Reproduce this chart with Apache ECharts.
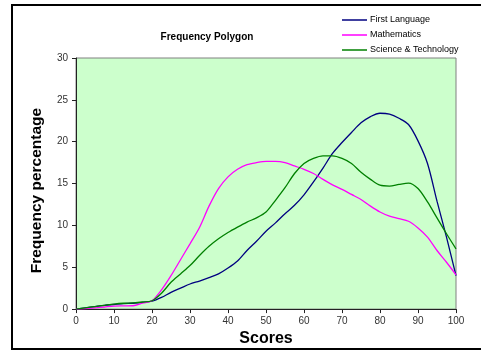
<!DOCTYPE html>
<html>
<head>
<meta charset="utf-8">
<script src="https://cdn.jsdelivr.net/npm/echarts@6/dist/echarts.min.js"></script>
<style>
  html, body { margin: 0; padding: 0; background: #fff; }
  #chart { width: 481px; height: 352px; }
</style>
</head>
<body>
<div id="chart"></div>
<script>
// Score bands (x positions of the polygon vertices)
const scores = [0, 2.5, 5, 7.5, 10, 12.5, 15, 17.5, 20, 22.5, 25, 27.5, 30, 32.5, 35, 37.5, 40, 42.5, 45, 47.5,
  50, 52.5, 55, 57.5, 60, 62.5, 65, 67.5, 70, 72.5, 75, 77.5, 80, 82.5, 85, 87.5, 90, 92.5, 95, 97.5, 100];

// Frequency percentages per subject
const firstLanguage = [0, 0.15, 0.3, 0.45, 0.55, 0.65, 0.7, 0.8, 0.95, 1.4, 2.0, 2.5, 3.0, 3.35, 3.75, 4.2, 4.9, 5.75, 7.0, 8.1,
  9.3, 10.3, 11.4, 12.4, 13.65, 15.2, 16.85, 18.6, 19.9, 21.1, 22.25, 23.0, 23.4, 23.3, 22.8, 22.05, 20.1, 17.4, 12.9, 8.6, 4.0];
const mathematics = [0, 0.05, 0.15, 0.25, 0.35, 0.38, 0.4, 0.7, 1.0, 2.3, 4.0, 5.9, 7.8, 9.75, 12.3, 14.4, 15.8, 16.7, 17.25, 17.5,
  17.65, 17.65, 17.5, 17.1, 16.7, 16.2, 15.5, 14.85, 14.3, 13.7, 13.1, 12.3, 11.6, 11.1, 10.8, 10.5, 9.7, 8.6, 7.0, 5.6, 4.1];
const scienceTech = [0, 0.15, 0.3, 0.45, 0.6, 0.7, 0.75, 0.85, 1.0, 1.9, 3.2, 4.2, 5.2, 6.4, 7.5, 8.4, 9.15, 9.8, 10.4, 10.9,
  11.6, 13.0, 14.5, 16.2, 17.4, 18.0, 18.3, 18.3, 18.0, 17.4, 16.35, 15.5, 14.8, 14.7, 14.9, 15.05, 14.4, 12.8, 10.9, 9.0, 7.2];

const seriesNames = ['First Language', 'Mathematics', 'Science & Technology'];
const seriesColors = ['#000080', '#FF00FF', '#008000'];
const seriesData = [firstLanguage, mathematics, scienceTech];

const FONT = '"Liberation Sans", Arial, sans-serif';

const chart = echarts.init(document.getElementById('chart'), null, { renderer: 'canvas' });

chart.setOption({
  animation: false,
  backgroundColor: '#ffffff',
  graphic: [
    {
      type: 'rect',
      shape: { x: 12, y: 5, width: 480, height: 344 },
      style: { fill: 'none', stroke: '#000', lineWidth: 2 },
      z: -1
    },
    {
      type: 'text',
      style: {
        text: 'Frequency Polygon',
        x: 207, y: 37,
        textAlign: 'center', textVerticalAlign: 'middle',
        font: 'bold 10px ' + FONT,
        fill: '#000'
      }
    }
  ],
  legend: {
    orient: 'vertical',
    left: 337,
    top: 9.5,
    itemWidth: 25,
    itemHeight: 1.5,
    itemGap: 4,
    icon: 'rect',
    textStyle: { fontFamily: FONT, fontSize: 9, color: '#000', lineHeight: 11, padding: [0, 0, 0, -2] },
    data: seriesNames
  },
  grid: {
    left: 76, right: 25, top: 58, bottom: 34,
    show: true,
    backgroundColor: '#CCFFCC',
    borderColor: '#808080',
    borderWidth: 1
  },
  xAxis: {
    type: 'value',
    min: 0, max: 100, interval: 10,
    name: 'Scores',
    nameLocation: 'middle',
    nameGap: 19,
    nameTextStyle: { fontFamily: FONT, fontSize: 16, fontWeight: 'bold', color: '#000' },
    axisLine: { lineStyle: { color: '#222', width: 1 } },
    axisTick: { show: true, length: 4, lineStyle: { color: '#222' } },
    axisLabel: { fontFamily: FONT, fontSize: 10, color: '#333', margin: 7 },
    splitLine: { show: false }
  },
  yAxis: {
    type: 'value',
    min: 0, max: 30, interval: 5,
    name: 'Frequency percentage',
    nameLocation: 'middle',
    nameGap: 31,
    nameTextStyle: { fontFamily: FONT, fontSize: 15.5, fontWeight: 'bold', color: '#000', padding: [0, 14, 0, 0] },
    axisLine: { show: true, lineStyle: { color: '#222', width: 1 } },
    axisTick: { show: true, length: 4, lineStyle: { color: '#222' } },
    axisLabel: { fontFamily: FONT, fontSize: 10, color: '#333', margin: 8 },
    splitLine: { show: false }
  },
  series: seriesNames.map((name, i) => ({
    name: name,
    type: 'line',
    smooth: 0.3,
    showSymbol: false,
    symbol: 'none',
    color: seriesColors[i],
    lineStyle: { color: seriesColors[i], width: 1.3 },
    data: scores.map((s, j) => [s, seriesData[i][j]])
  }))
});
</script>
</body>
</html>
